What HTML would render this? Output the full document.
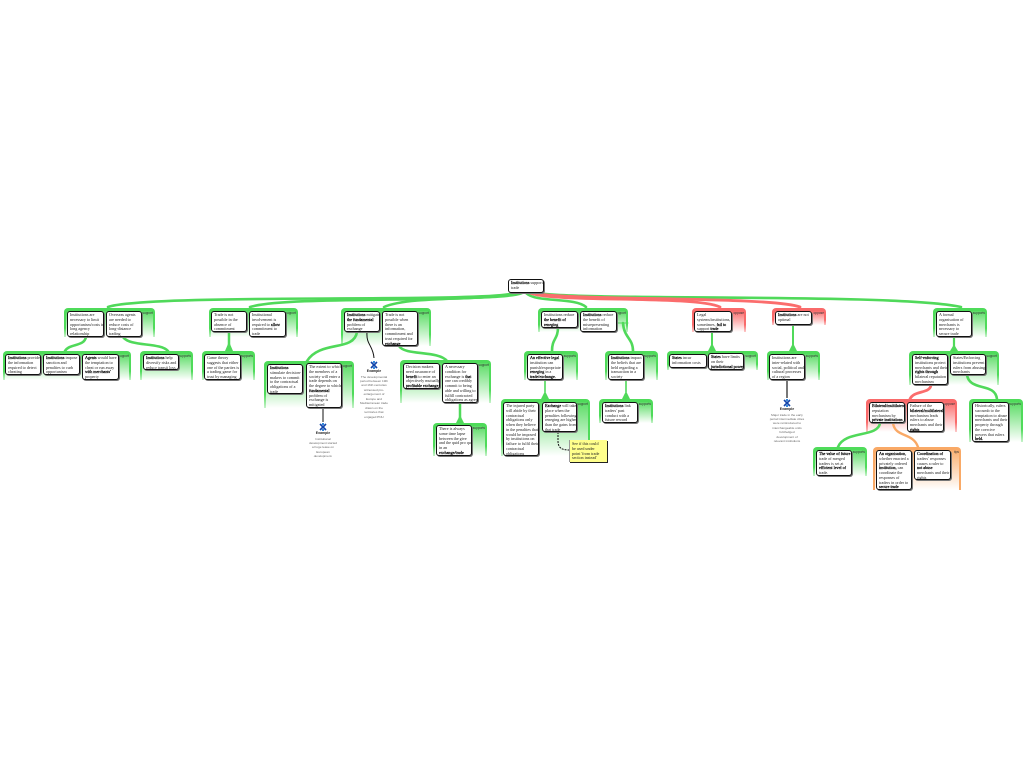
<!DOCTYPE html>
<html><head><meta charset="utf-8"><title>Institutions support trade</title>
<style>
html,body{margin:0;padding:0;background:#fff;width:1024px;height:768px;overflow:hidden}
body{position:relative;font-family:"Liberation Sans",sans-serif}
.g{position:absolute;border-radius:4px 4px 0 0;z-index:1}
.g i{position:absolute;left:2px;right:2px;top:3px;bottom:0;border-radius:3px 3px 0 0;display:block}
.g.gr{background:linear-gradient(#4fdb5a 0,#4fdb5a 70%,#c6f3ca 100%)}
.g.gr i{background:linear-gradient(#5bdc65 0,#ffffff 100%)}
.g.rd{background:linear-gradient(#f96a6a 0,#f96a6a 70%,#fccaca 100%)}
.g.rd i{background:linear-gradient(#fa6c6c 0,#ffffff 100%)}
.g.or{background:linear-gradient(#f9a966 0,#f9a966 100%)}
.g.or i{background:linear-gradient(#fbb070 0,#ffffff 100%)}
.g s{position:absolute;right:2px;top:3px;font-size:3.2px;line-height:4px;color:#333;text-decoration:none;z-index:1}
.n{position:absolute;box-sizing:border-box;background:#fff;border:1px solid #111;border-radius:3px;box-shadow:1px 1px 0 #777;z-index:3;font-family:"Liberation Serif",serif;font-size:4.1px;line-height:4.75px;color:#222;padding:1px 0 0 2px;white-space:nowrap;overflow:hidden}
.n b{font-weight:normal;color:#000;-webkit-text-stroke:.18px #000}
.y{background:#ffff8c;border:none;border-radius:0;box-shadow:1px 1px 0 #222;color:#222;padding:2px 0 0 2px;border-left:1px solid #999}
.e{position:absolute;z-index:3;text-align:center;font-size:3.1px;line-height:4.45px;color:#666;white-space:nowrap;transform:translateX(-50%)}
.e u{display:block;text-decoration:none;color:#222;font-size:3.5px;line-height:5.5px;font-weight:bold}
svg.c{position:absolute;left:0;top:0;z-index:2}
</style></head><body>

<div class="g gr" style="left:64px;top:308px;width:91px;height:29px"><i></i><s>support</s></div>
<div class="g gr" style="left:3px;top:351px;width:128px;height:29px"><i></i><s>support</s></div>
<div class="g gr" style="left:140px;top:351px;width:53px;height:29px"><i></i><s>supports</s></div>
<div class="g gr" style="left:209px;top:308px;width:89px;height:29px"><i></i><s>support</s></div>
<div class="g gr" style="left:202px;top:351px;width:53px;height:29px"><i></i><s>supports</s></div>
<div class="g gr" style="left:341px;top:308px;width:90px;height:38px"><i></i><s>support</s></div>
<div class="g gr" style="left:264px;top:361px;width:90px;height:47px"><i></i><s>support</s></div>
<div class="g gr" style="left:400px;top:360px;width:91px;height:43px"><i></i><s>support</s></div>
<div class="g gr" style="left:433px;top:423px;width:54px;height:33px"><i></i><s>supports</s></div>
<div class="g gr" style="left:538px;top:308px;width:90px;height:24px"><i></i><s>support</s></div>
<div class="g gr" style="left:524px;top:351px;width:54px;height:29px"><i></i><s>supports</s></div>
<div class="g gr" style="left:605px;top:351px;width:53px;height:29px"><i></i><s>supports</s></div>
<div class="g gr" style="left:501px;top:399px;width:89px;height:57px"><i></i><s>support</s></div>
<div class="g gr" style="left:599px;top:399px;width:54px;height:24px"><i></i><s>supports</s></div>
<div class="g rd" style="left:692px;top:308px;width:54px;height:24px"><i></i><s>oppose</s></div>
<div class="g gr" style="left:667px;top:351px;width:91px;height:19px"><i></i><s>support</s></div>
<div class="g rd" style="left:772px;top:308px;width:54px;height:17px"><i></i><s>oppose</s></div>
<div class="g gr" style="left:767px;top:351px;width:53px;height:29px"><i></i><s>supports</s></div>
<div class="g gr" style="left:933px;top:308px;width:54px;height:29px"><i></i><s>supports</s></div>
<div class="g gr" style="left:909px;top:351px;width:90px;height:34px"><i></i><s>support</s></div>
<div class="g rd" style="left:866px;top:399px;width:91px;height:33px"><i></i><s>oppose</s></div>
<div class="g gr" style="left:969px;top:399px;width:54px;height:43px"><i></i><s>supports</s></div>
<div class="g gr" style="left:813px;top:447px;width:54px;height:29px"><i></i><s>supports</s></div>
<div class="g or" style="left:873px;top:447px;width:88px;height:43px"><i></i><s>tips</s></div>

<svg class="c" width="1024" height="768" viewBox="0 0 1024 768" fill="none">
<g stroke="#50d95a" stroke-width="2.6" stroke-linecap="round">
<path d="M514 293C490 303 150 293 108 307"/>
<path d="M518 293C480 304 290 295 250 307"/>
<path d="M522 293C500 301 410 295 384 307"/>
<path d="M526 293C536 303 575 297 586 307"/>
<path d="M536 293C590 301 900 293 961 307"/>
<path d="M86 337C84 347 70 343 65 351M123 337C130 347 160 342 168 351"/>
<path d="M229 332V351" stroke-width="2.5"/>
<path d="M357 332C354 352 320 340 307 361M399 346C405 356 438 350 447 361"/>
<path d="M460 403V423" stroke-width="2.5"/>
<path d="M558 327C558 340 552 338 552 351M623 323C624 338 633 338 633 351"/>
<path d="M618 323H628" stroke-width="1"/>
<path d="M545 380V399M626 380V399" stroke-width="1.6"/>
<path d="M712 332V351M793 325V351" stroke-width="2"/>
<path d="M954 337V351" stroke-width="2.2"/>
<path d="M967 375C970 392 995 382 997 399"/>
<path d="M880 423C878 438 845 430 838 447"/>
</g>
<path d="M225 351L228 344H230L233 351ZM541 399L544 393H546L549 399ZM622 399L625 393H627L630 399ZM708 351L711 345H713L716 351ZM789 351L792 345H794L797 351ZM950 351L953 346H955L958 351ZM456 423L459 417H461L464 423Z" fill="#50d95a"/>
<g stroke="#fb6d6d" stroke-width="2.8" stroke-linecap="round">
<path d="M530 293C555 303 695 295 720 307"/>
<path d="M532 293C570 301 770 296 800 307"/>
<path d="M931 385C930 394 914 390 910 399"/>
</g>
<path d="M893 423C895 438 913 432 918 447" stroke="#f9a966" stroke-width="2.4" stroke-linecap="round"/>
<path d="M367 332C366 345 373 345 374 358M323 408V422" stroke="#111" stroke-width="1"/>
<path d="M787 380V398" stroke="#777" stroke-width="2"/>
<path d="M558 432V441C558 448 562 450 569 450" stroke="#111" stroke-width="1" stroke-dasharray="2 1"/>
<path d="M320 424L326 430M326 424L320 430" stroke="#14a" stroke-width="1.6"/><path d="M322 423h2v2h-2zM322 429h2v2h-2z" fill="#38d"/>
<path d="M371 362L377 368M377 362L371 368" stroke="#14a" stroke-width="1.6"/><path d="M373 361h2v2h-2zM373 367h2v2h-2z" fill="#38d"/>
<path d="M784 400L790 406M790 400L784 406" stroke="#14a" stroke-width="1.6"/><path d="M786 399h2v2h-2zM786 405h2v2h-2z" fill="#38d"/>
</svg>

<div class="n" style="left:508px;top:279px;width:36px;height:14px"><b>Institutions</b> support<br>trade</div>
<div class="n" style="left:67px;top:311px;width:37px;height:26px">Institutions are<br>necessary to limit<br>opportunism/costs in<br>long agency<br>relationship</div>
<div class="n" style="left:106px;top:311px;width:36px;height:26px">Overseas agents<br>are needed to<br>reduce costs of<br>long-distance<br>trading</div>
<div class="n" style="left:5px;top:354px;width:36px;height:21px"><b>Institutions</b> provide<br>the information<br>required to detect<br>cheating</div>
<div class="n" style="left:43px;top:354px;width:37px;height:21px"><b>Institutions</b> impose<br>sanction and<br>penalties to curb<br>opportunism</div>
<div class="n" style="left:82px;top:354px;width:37px;height:26px"><b>Agents</b> would have<br>the temptation to<br>cheat or run away<br><b>with merchants'</b><br>property</div>
<div class="n" style="left:143px;top:354px;width:36px;height:16px"><b>Institutions</b> help<br>diversify risks and<br>reduce transit loss</div>
<div class="n" style="left:211px;top:311px;width:36px;height:21px">Trade is not<br>possible in the<br>absence of<br>commitment</div>
<div class="n" style="left:204px;top:354px;width:37px;height:26px">Game theory<br>suggests that either<br>one of the parties is<br>a trading game for<br>trust by managing</div>
<div class="n" style="left:249px;top:311px;width:37px;height:26px">Institutional<br>involvement is<br>required to <b>allow</b><br>commitment to<br>trade</div>
<div class="n" style="left:344px;top:311px;width:36px;height:21px"><b>Institutions</b> mitigate<br><b>the fundamental</b><br>problem of<br>exchange</div>
<div class="n" style="left:382px;top:311px;width:36px;height:35px">Trade is not<br>possible when<br>there is an<br>information,<br>commitment and<br>trust required for<br><b>exchange</b></div>
<div class="n" style="left:267px;top:364px;width:36px;height:30px"><b>Institutions</b><br>stimulate decision-<br>makers to commit<br>to the contractual<br>obligations of a<br>trade</div>
<div class="n" style="left:306px;top:363px;width:36px;height:45px">The extent to which<br>the members of a<br>society will enter a<br>trade depends on<br>the degree to which<br><b>fundamental</b><br>problem of<br>exchange is<br>mitigated</div>
<div class="n" style="left:403px;top:363px;width:37px;height:26px">Decision makers<br>need assurance of<br><b>benefit</b> to enter an<br>objectively mutually<br><b>profitable exchange</b></div>
<div class="n" style="left:442px;top:363px;width:36px;height:40px">A necessary<br>condition for<br>exchange is <b>that</b><br>one can credibly<br>commit to being<br>able and willing to<br>fulfill contracted<br>obligations as agreed</div>
<div class="n" style="left:436px;top:425px;width:36px;height:31px">There is always<br>some time lapse<br>between the give<br>and the quid pro quo<br>in an<br><b>exchange/trade</b></div>
<div class="n" style="left:541px;top:311px;width:37px;height:17px">Institutions reduce<br><b>the benefit of</b><br><b>reneging</b></div>
<div class="n" style="left:580px;top:311px;width:37px;height:21px"><b>Institutions</b> reduce<br>the benefit of<br>misrepresenting<br>information</div>
<div class="n" style="left:527px;top:354px;width:36px;height:26px"><b>An effective legal</b><br>institution can<br>punish/expropriate for<br><b>reneging</b> in a<br><b>trade/exchange.</b></div>
<div class="n" style="left:608px;top:354px;width:36px;height:26px"><b>Institutions</b> impact<br>the beliefs that are<br>held regarding a<br>transaction in a<br>society</div>
<div class="n" style="left:503px;top:402px;width:36px;height:54px">The injured party<br>will abide by their<br>contractual<br>obligations only<br>when they believe<br>in the penalties that<br>would be imposed<br>by institutions on<br>failure to fulfil their<br>contractual<br>obligations</div>
<div class="n" style="left:542px;top:402px;width:35px;height:30px"><b>Exchange</b> will take<br>place when the<br>penalties following<br>reneging are higher<br>than the gains from<br>that trade</div>
<div class="n" style="left:602px;top:402px;width:36px;height:21px"><b>Institutions</b> link<br>traders' past<br>conduct with a<br>future reward</div>
<div class="n y" style="left:569px;top:440px;width:38px;height:22px">See if this could<br>be used under<br>point 'from trade<br>section instead'</div>
<div class="n" style="left:694px;top:311px;width:38px;height:21px">Legal<br>systems/institutions,<br>sometimes, <b>fail to</b><br>support <b>trade</b></div>
<div class="n" style="left:669px;top:354px;width:38px;height:14px"><b>States</b> incur<br>information costs</div>
<div class="n" style="left:708px;top:353px;width:36px;height:17px"><b>States</b> have limits<br>on their<br><b>jurisdictional power</b></div>
<div class="n" style="left:775px;top:311px;width:37px;height:14px"><b>Institutions</b> are not<br>optimal</div>
<div class="n" style="left:769px;top:354px;width:36px;height:26px">Institutions are<br>inter-related with<br>social, political and<br>cultural processes<br>of a region</div>
<div class="n" style="left:936px;top:311px;width:36px;height:26px">A formal<br>organisation of<br>merchants is<br>necessary to<br>secure trade</div>
<div class="n" style="left:912px;top:354px;width:36px;height:31px"><b>Self-enforcing</b><br>institutions protect<br>merchants and their<br><b>rights through</b><br>bilateral reputation<br>mechanism</div>
<div class="n" style="left:950px;top:354px;width:36px;height:21px">States/Enforcing<br>institutions prevent<br>rulers from abusing<br>merchants</div>
<div class="n" style="left:869px;top:402px;width:36px;height:21px"><b>Bilateral/multilateral</b><br>reputation<br>mechanism by<br><b>private institutions</b></div>
<div class="n" style="left:907px;top:402px;width:37px;height:30px">Failure of the<br><b>bilateral/multilateral</b><br>mechanism leads<br>rulers to abuse<br>merchants and their<br><b>rights</b></div>
<div class="n" style="left:972px;top:402px;width:37px;height:40px">Historically, rulers<br>succumb to the<br>temptation to abuse<br>merchants and their<br>property through<br>the coercive<br>powers that rulers<br><b>held.</b></div>
<div class="n" style="left:816px;top:450px;width:36px;height:26px"><b>The value of future</b><br>trade of merged<br>traders is set at<br><b>efficient level of</b><br>trade.</div>
<div class="n" style="left:876px;top:450px;width:36px;height:40px"><b>An organisation,</b><br>whether enacted a<br>privately ordered<br><b>institution,</b> can<br>coordinate the<br>responses of<br>traders in order to<br><b>secure trade</b></div>
<div class="n" style="left:914px;top:450px;width:37px;height:30px"><b>Coordination of</b><br>traders' responses<br>causes a ruler to<br><b>not abuse</b><br>merchants and their<br>rights</div>

<div class="e" style="left:323px;top:431px"><u>Example</u>Institutional<br>development started<br>a huge lease on<br>European<br>development.</div>
<div class="e" style="left:374px;top:369px"><u>Example</u>The developmental<br>period between 19th<br>and 16th centuries<br>witnessed pro-<br>enlargement of<br>Europe and<br>Mediterranean trade<br>drawn on the<br>territories that<br>engaged PNU</div>
<div class="e" style="left:787px;top:407px"><u>Example</u>Major trade in the early<br>period intermediate cities<br>were reintroduced to<br>interchangeable units<br>full-fledged<br>development of<br>relevant institutions</div>
</body></html>
